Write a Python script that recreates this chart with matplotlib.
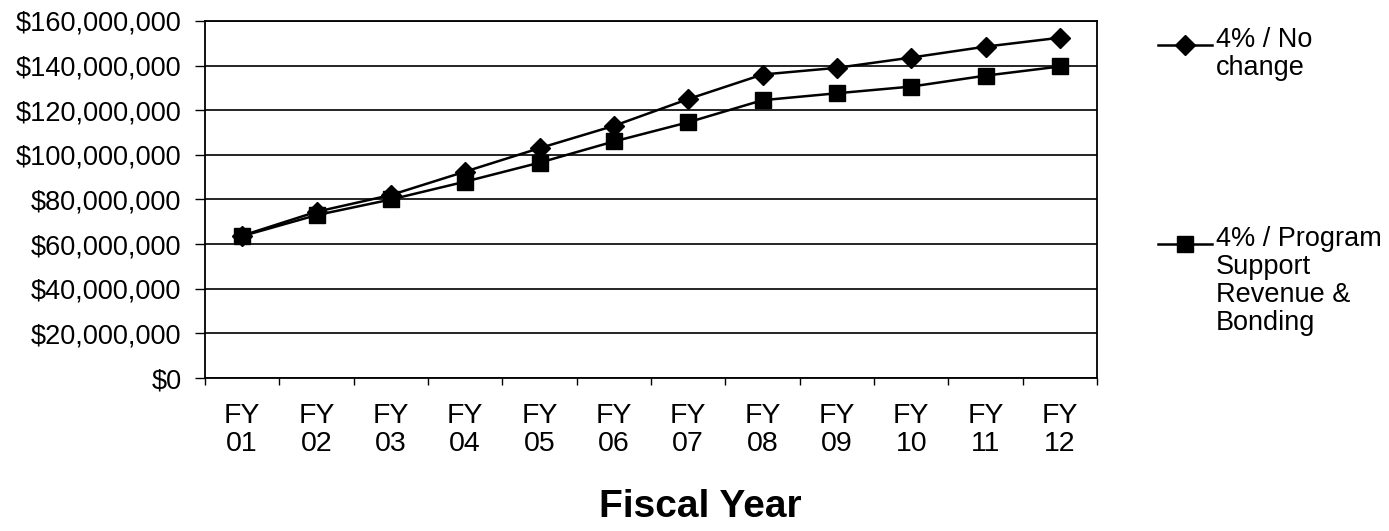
import matplotlib.pyplot as plt
from matplotlib.lines import Line2D
from matplotlib.ticker import FuncFormatter, FixedLocator

plt.rcParams["font.family"] = ["Liberation Sans", "DejaVu Sans"]

# Values (dollars)
years = ["FY\n01", "FY\n02", "FY\n03", "FY\n04", "FY\n05", "FY\n06",
         "FY\n07", "FY\n08", "FY\n09", "FY\n10", "FY\n11", "FY\n12"]
no_change = [63.8e6, 74.5e6, 82.0e6, 92.5e6, 103.0e6, 113.0e6,
             125.0e6, 136.0e6, 139.0e6, 143.6e6, 148.5e6, 152.5e6]
program_support = [63.6e6, 73.0e6, 80.0e6, 88.0e6, 96.5e6, 106.0e6,
                   114.6e6, 124.5e6, 127.6e6, 130.6e6, 135.5e6, 139.6e6]
legend_labels = ["4% / No\nchange", "4% / Program\nSupport\nRevenue &\nBonding"]


def main():
    fig = plt.figure(figsize=(13.89, 5.31), dpi=100)
    ax = fig.add_axes([0.1476, 0.2881, 0.6422, 0.6724])

    x = list(range(len(years)))
    ax.plot(x, no_change, color="black", lw=1.8, marker="D", markersize=10,
            zorder=3)
    ax.plot(x, program_support, color="black", lw=1.8, marker="s",
            markersize=12, zorder=3)

    ax.set_xlim(-0.5, len(years) - 0.5)
    ax.set_ylim(0, 160e6)
    ax.set_yticks([i * 20e6 for i in range(9)])
    ax.yaxis.set_major_formatter(FuncFormatter(lambda v, p: f"${v:,.0f}"))
    ax.grid(axis="y", color="black", lw=1.2)
    ax.set_axisbelow(True)

    ax.set_xticks(x)
    ax.set_xticklabels(years, fontsize=20.5, linespacing=1.1)
    ax.xaxis.set_minor_locator(FixedLocator([i - 0.5 for i in range(len(years) + 1)]))
    ax.tick_params(axis="x", which="major", length=0, pad=18)
    ax.tick_params(axis="x", which="minor", length=5, width=1, direction="out")
    ax.tick_params(axis="y", length=7, width=1, labelsize=19.5, pad=10)

    for s in ax.spines.values():
        s.set_color("black")
        s.set_linewidth(1.3)

    # axis title sits a bit right of the plot centre in the reference
    fig.text(0.504, 0.045, "Fiscal Year", fontsize=28, fontweight="bold",
             ha="center", va="center")

    # manual legend to the right of the plot
    entries = [("D", 10, 0.915), ("s", 12, 0.540)]
    for (mk, ms, yy), label in zip(entries, legend_labels):
        fig.add_artist(Line2D([0.8336, 0.8726], [yy, yy], color="black",
                              lw=1.8, transform=fig.transFigure))
        fig.add_artist(Line2D([0.8531], [yy], color="black", marker=mk,
                              markersize=ms, transform=fig.transFigure))
        fig.text(0.8755, yy + 0.034, label, fontsize=19.5, va="top", ha="left",
                 linespacing=1.1)

    fig.savefig("out.png", dpi=100)


if __name__ == "__main__":
    main()
